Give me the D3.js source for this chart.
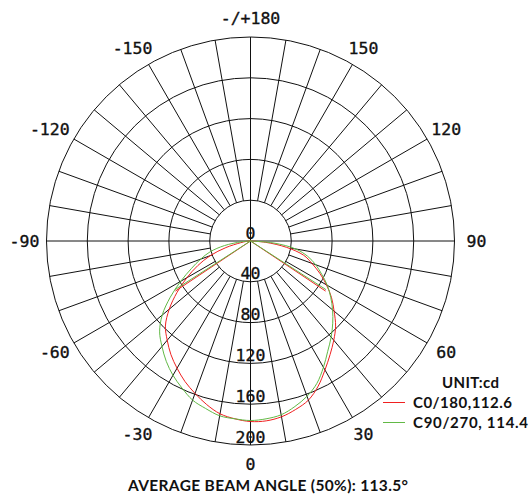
<!DOCTYPE html>
<html>
<head>
<meta charset="utf-8">
<script src="https://cdn.jsdelivr.net/npm/d3@7"></script>
<style>
  body { margin: 0; background: #fff; }
  svg { display: block; }
  .tick-label { font-family: "DejaVu Sans Mono", monospace; font-size: 16.5px; fill: #111; stroke: #111; stroke-width: 0.35px; }
  .legend { font-family: Lato, "Noto Sans", sans-serif; font-weight: bold; font-size: 15px; fill: #111; }
</style>
</head>
<body>
<svg width="531" height="496"></svg>
<script>
// gamma angles (deg), 0 = straight down, negative = left half
const gammas = [-90, -85, -80, -75, -70, -65, -60, -55, -50, -45, -40, -35, -30, -25, -20, -15, -10, -5,
                0, 5, 10, 15, 20, 25, 30, 35, 40, 45, 50, 55, 60, 65, 70, 75, 80, 85, 90];

// intensities in cd
const c0_180 = [0, 4, 10, 25, 42, 57, 72, 88, 104, 118, 127, 136, 144, 152, 159, 166, 172, 175,
                177, 177, 175, 171, 166, 157, 146, 136, 127, 118, 107, 97, 86, 75, 64, 54, 36, 15, 0];
const c90_270 = [0, 9, 26, 41, 52, 64, 79, 96, 113, 126, 135, 144, 152, 159, 166, 170, 174, 175,
                 176, 175, 173, 168, 162, 154, 143, 132, 123, 114, 105, 96, 87, 77, 68, 58, 45, 23, 0];

const seriesNames = ['C0/180,112.6', 'C90/270, 114.4'];
const beamAngles = [112.6, 114.4];
const seriesColors = ['#f02020', '#62b946'];

const ringValues = [40, 80, 120, 160, 200];
const ringLabels = ['0', '40', '80', '120', '160', '200'];
const angleTicks = [180, 150, 120, 90, 60, 30, 0, -30, -60, -90, -120, -150];

const svg = d3.select('svg');
const cx = 250.5, cy = 241;

const r = d3.scaleLinear().domain([0, 200]).range([0, 204]);
// gamma -> d3 radial angle (0 at top, clockwise)
const toRad = g => Math.PI - g * Math.PI / 180;

const g = svg.append('g').attr('transform', `translate(${cx},${cy})`);

// grid circles
g.append('g').selectAll('circle')
  .data(ringValues)
  .enter().append('circle')
  .attr('r', d => r(d))
  .attr('fill', 'none')
  .attr('stroke', '#111')
  .attr('stroke-width', 1);

// radial lines every 10 degrees, main axes go through the centre
const spokes = d3.range(0, 360, 10);
g.append('g').selectAll('line')
  .data(spokes)
  .enter().append('line')
  .attr('x1', d => (d % 90 === 0 ? 0 : r(40)) * Math.sin(toRad(d)))
  .attr('y1', d => -(d % 90 === 0 ? 0 : r(40)) * Math.cos(toRad(d)))
  .attr('x2', d => r(200) * Math.sin(toRad(d)))
  .attr('y2', d => -r(200) * Math.cos(toRad(d)))
  .attr('stroke', '#111')
  .attr('stroke-width', 1);

// curves
const series = [c0_180, c90_270];
const line = d3.lineRadial()
  .angle(d => toRad(d[0]))
  .radius(d => r(d[1]))
  .curve(d3.curveCatmullRom);

series.forEach((vals, i) => {
  const pts = gammas.map((a, j) => [a, vals[j]]);
  g.append('path')
    .attr('d', line(pts))
    .attr('fill', 'none')
    .attr('stroke', seriesColors[i])
    .attr('stroke-width', 1);

  // beam angle lines from centre to half-max
  const half = d3.max(vals) / 2;
  [-beamAngles[i] / 2, beamAngles[i] / 2].forEach(a => {
    g.append('line')
      .attr('x1', 0).attr('y1', 0)
      .attr('x2', r(half) * Math.sin(toRad(a)))
      .attr('y2', -r(half) * Math.cos(toRad(a)))
      .attr('stroke', seriesColors[i])
      .attr('stroke-width', 1);
  });
});

// ring value labels along the lower axis
g.append('g').selectAll('text')
  .data(ringLabels)
  .enter().append('text')
  .attr('class', 'tick-label')
  .attr('x', 0)
  .attr('y', d => r(+d) - 2.5)
  .attr('text-anchor', 'middle')
  .text(d => d);

// angle labels
g.append('g').selectAll('text')
  .data(angleTicks)
  .enter().append('text')
  .attr('class', 'tick-label')
  .attr('x', d => 226 * Math.sin(toRad(d)) - (d < -90 ? 5 : 0))
  .attr('y', d => -223 * Math.cos(toRad(d)))
  .attr('dy', '0.36em')
  .attr('text-anchor', 'middle')
  .text(d => d === 180 ? '-/+180' : String(d));

// legend
svg.append('text')
  .attr('class', 'legend')
  .attr('x', 442).attr('y', 388)
  .attr('textLength', 57)
  .text('UNIT:cd');

const legendWidths = [99, 115];
seriesNames.forEach((name, i) => {
  const y = 408 + i * 20;
  svg.append('line')
    .attr('x1', 383).attr('x2', 405)
    .attr('y1', y - 5.5).attr('y2', y - 5.5)
    .attr('stroke', seriesColors[i])
    .attr('stroke-width', 1);
  svg.append('text')
    .attr('class', 'legend')
    .attr('x', 413).attr('y', y)
    .attr('textLength', legendWidths[i])
    .text(name);
});

// title
svg.append('text')
  .attr('class', 'legend')
  .attr('x', 128).attr('y', 490.5)
  .attr('textLength', 280)
  .style('font-size', '15.5px')
  .text('AVERAGE BEAM ANGLE (50%): 113.5°');
</script>
</body>
</html>
